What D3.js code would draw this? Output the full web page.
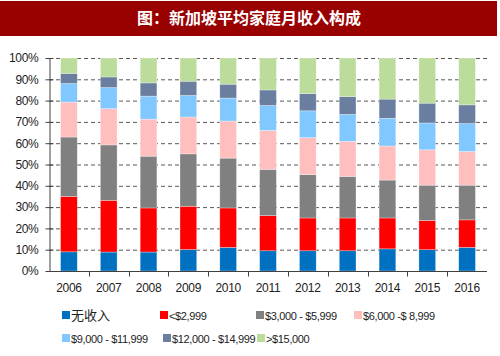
<!DOCTYPE html>
<html><head><meta charset="utf-8">
<script src="https://cdn.jsdelivr.net/npm/d3@7"></script>
<style>
html,body{margin:0;padding:0;background:#fff;}
svg{display:block;}
text{font-family:"Liberation Sans",Arial,sans-serif;}
</style></head>
<body>
<svg id="c" width="500" height="356"></svg>
<script>
const title = "图：新加坡平均家庭月收入构成";
const years = ["2006","2007","2008","2009","2010","2011","2012","2013","2014","2015","2016"];
const seriesNames = ["无收入","<$2,999","$3,000 - $5,999","$6,000 -$ 8,999","$9,000 - $11,999","$12,000 - $14,999",">$15,000"];
const colors = ["#0070C0","#FF0000","#808080","#FFBFBF","#80C8FF","#6A7FA0","#BBDC9A"];
const sNone   = [9.0, 8.9, 8.9, 10.1, 11.1, 9.5, 9.5, 9.5, 10.4, 10.0, 11.1];
const sLt3k   = [26.0, 24.3, 20.7, 20.3, 18.5, 16.5, 15.4, 15.4, 14.5, 13.7, 12.9];
const s3to6k  = [27.9, 26.0, 24.3, 24.6, 23.4, 21.7, 20.3, 19.5, 17.8, 16.6, 16.3];
const s6to9k  = [16.4, 17.0, 17.4, 17.3, 17.4, 18.3, 17.4, 16.5, 16.0, 16.6, 15.8];
const s9to12k = [8.7, 9.9, 10.8, 10.1, 10.8, 11.7, 12.6, 12.6, 13.0, 12.6, 13.1];
const s12to15k= [4.8, 5.0, 6.2, 6.7, 6.5, 7.3, 8.1, 8.4, 9.0, 9.3, 8.8];
const sGt15k  = [7.2, 8.9, 11.7, 10.9, 12.3, 15.0, 16.7, 18.1, 19.3, 21.2, 22.0];
const yTicks = [0,10,20,30,40,50,60,70,80,90,100];

const seriesVals = [sNone, sLt3k, s3to6k, s6to9k, s9to12k, s12to15k, sGt15k];
const rows = years.map((y,i)=>{const r={year:y}; seriesNames.forEach((n,j)=>r[n]=seriesVals[j][i]); return r;});
const stacked = d3.stack().keys(seriesNames).offset(d3.stackOffsetExpand)(rows);

const svg = d3.select("#c");
// title band
svg.append("rect").attr("x",0).attr("y",1).attr("width",497).attr("height",35).attr("fill","#990000");
svg.append("text").attr("x",249).attr("y",24).attr("text-anchor","middle")
  .attr("fill","#fff").attr("font-size",16).attr("font-weight","bold")
  .style("font-family","'Noto Sans CJK SC',sans-serif").text(title);

const L=49, R=487, T=58, B=271;
const x = d3.scaleBand().domain(years).range([L,R]).paddingInner(0.58).paddingOuter(0.29);
const xOuter = d3.scaleBand().domain(years).range([L,R]);
const y = d3.scaleLinear().domain([0,1]).range([B,T]);

// gridlines
svg.append("g").selectAll("line").data(yTicks.filter(t=>t>0)).join("line")
  .attr("x1",L).attr("x2",R).attr("y1",d=>y(d/100)+0.5).attr("y2",d=>y(d/100)+0.5)
  .attr("stroke","#595959").attr("stroke-width",1).attr("stroke-dasharray","4,3");

// bars
svg.append("g").selectAll("g").data(stacked).join("g")
  .attr("fill",(d,i)=>colors[i])
  .selectAll("rect").data(d=>d).join("rect")
  .attr("x",d=>x(d.data.year)).attr("width",x.bandwidth())
  .attr("y",d=>y(d[1])).attr("height",d=>y(d[0])-y(d[1]))
  .attr("stroke","rgba(255,255,255,0.5)").attr("stroke-width",0.6);

// y axis
const ya = svg.append("g").attr("transform",`translate(${L+0.5},0)`)
  .call(d3.axisLeft(y).tickValues(yTicks.map(t=>t/100)).tickFormat(d=>Math.round(d*100)+"%").tickSizeInner(4).tickSizeOuter(0));
ya.select(".domain").attr("stroke","#404040");
ya.selectAll(".tick line").attr("stroke","#404040").attr("x2",4).attr("x1",-4);
ya.selectAll(".tick text").attr("font-size",12).attr("fill","#222").attr("x",-11).attr("letter-spacing",-0.3);

// x axis
const xa = svg.append("g").attr("transform",`translate(0,${B+0.5})`)
  .call(d3.axisBottom(x).tickSize(0).tickPadding(12));
xa.select(".domain").attr("d",`M${L},0H${R}`).attr("stroke","#404040");
xa.selectAll(".tick text").attr("font-size",12).attr("fill","#222").attr("letter-spacing",-0.3);
xa.append("g").selectAll("line").data(years.slice(1)).join("line")
  .attr("x1",d=>Math.round(xOuter(d))+0.5).attr("x2",d=>Math.round(xOuter(d))+0.5)
  .attr("y1",0).attr("y2",5).attr("stroke","#404040");

// legend
const legPos = [[62,315],[160,315],[256,315],[354,315],[62,338],[163,338],[257,338]];
const leg = svg.append("g").selectAll("g").data(seriesNames).join("g")
  .attr("transform",(d,i)=>`translate(${legPos[i][0]},${legPos[i][1]})`);
leg.append("rect").attr("x",0).attr("y",-4).attr("width",8).attr("height",8).attr("fill",(d,i)=>colors[i]);
leg.append("text").attr("x",9).attr("y",4.5).attr("font-size",(d,i)=>i===0?13:11).attr("fill","#222")
  .attr("letter-spacing",(d,i)=>i===0?0:-0.35)
  .style("font-family",(d,i)=>i===0?"'Noto Sans CJK SC',sans-serif":null).text(d=>d);
</script>
</body></html>
